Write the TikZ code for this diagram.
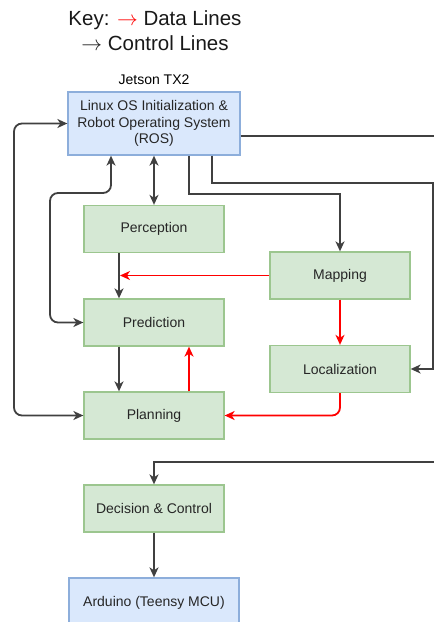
\documentclass[tikz,border=0pt]{standalone}
\usepackage{fontspec}
\setmainfont{Liberation Sans}
\usetikzlibrary{arrows.meta}
\definecolor{boxgreen}{HTML}{D5E8D4}
\definecolor{edgegreen}{HTML}{9CC68F}
\definecolor{boxblue}{HTML}{DAE8FC}
\definecolor{edgeblue}{HTML}{8DAEDB}
\begin{document}
\begin{tikzpicture}[x=1pt,y=-1pt,
  font=\fontsize{14}{16.5}\selectfont,
  >={Stealth[length=10pt,width=9pt,inset=3pt]},
  stage/.style={draw=edgegreen,fill=boxgreen,line width=1.3pt,minimum width=140pt,minimum height=47pt,inner sep=0pt,text=black!85},
  board/.style={draw=edgeblue,fill=boxblue,line width=1.3pt,inner sep=0pt,align=center,text=black!85},
  ctl/.style={draw=black!75,line width=1.8pt,->},
  dat/.style={draw=red,line width=1.8pt,->}]
\useasboundingbox (0,0) rectangle (434,622);

\node[align=center,font=\fontsize{20.5}{25}\selectfont,text=black!90] (key) at (155,30.5) {Key: {\color{red}$\rightarrow$} Data Lines\\$\rightarrow$ Control Lines};
\node (jetson) at (154,80) {Jetson TX2};
\node[board,minimum width=172pt,minimum height=63pt] (ros) at (154,123.5) {Linux OS Initialization \&\\Robot Operating System\\(ROS)};
\node[stage] (perception) at (154,229) {Perception};
\node[stage] (mapping) at (340,275.5) {Mapping};
\node[stage] (prediction) at (154,322.5) {Prediction};
\node[stage] (localization) at (340,369) {Localization};
\node[stage] (planning) at (154,415.5) {Planning};
\node[stage] (decision) at (154,508.5) {Decision \& Control};
\node[board,minimum width=170pt,minimum height=50pt] (arduino) at (154,603) {Arduino (Teensy MCU)};
\coordinate (join) at (120,275.5);

\draw[ctl,<->,rounded corners=8pt] (ros.west) -| (14,415.5) -- (planning.west);
\draw[ctl,<->,rounded corners=8pt] ([xshift=-43pt]ros.south) |- (50,193) |- (prediction.west);
\draw[ctl,<->] (ros.south) -- (perception.north);
\draw[ctl] ([xshift=35pt]ros.south) |- (340,194) -- (mapping.north);
\draw[ctl] ([xshift=58pt]ros.south) |- (433,183) |- (localization.east);
\draw[ctl] ([yshift=-12.5pt]ros.east) -| (438,462) -| (decision.north);
\draw[ctl] ([xshift=-35pt]perception.south) -- ([xshift=-35pt]prediction.north);
\draw[ctl] ([xshift=-35pt]prediction.south) -- ([xshift=-35pt]planning.north);
\draw[ctl] (decision.south) -- (arduino.north);

\draw[dat] (mapping.west) -- (join);
\draw[dat] (mapping.south) -- (localization.north);
\draw[dat] ([xshift=35pt]planning.north) -- ([xshift=35pt]prediction.south);
\draw[dat,rounded corners=8pt] (localization.south) |- (planning.east);
\end{tikzpicture}
\end{document}
